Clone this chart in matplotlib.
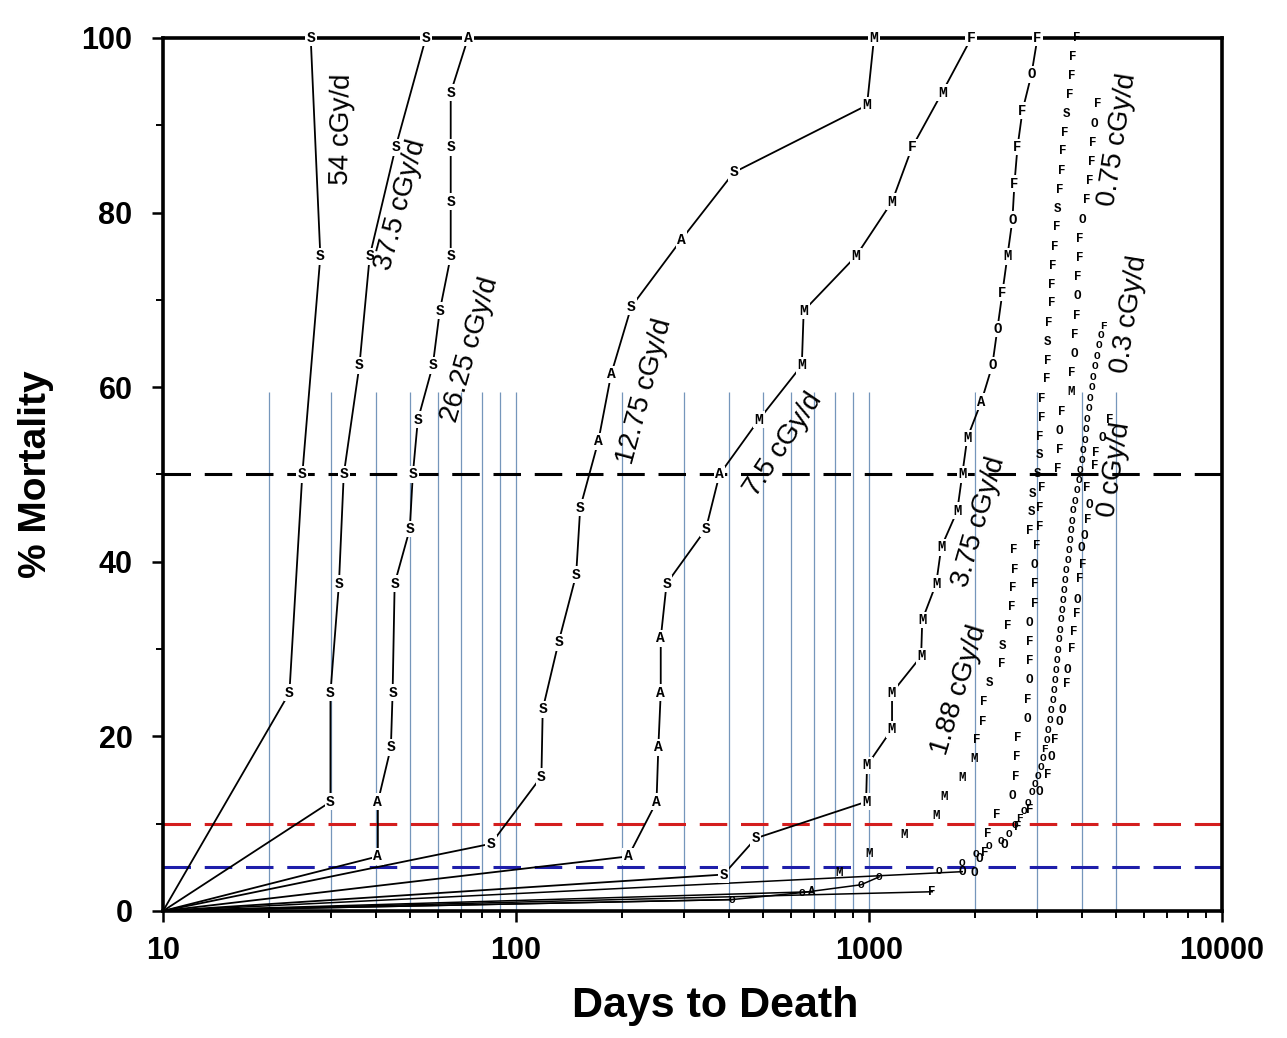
import matplotlib
matplotlib.use('Agg')
import matplotlib.pyplot as plt
from matplotlib.ticker import FixedLocator, LogLocator, MultipleLocator, NullFormatter

# ---- data: days to death / % mortality / cause letter ----
d54_days = [22.8, 24.8, 27.9, 26.2]
d54_mort = [25, 50, 75, 100]
d54_cause = "SSSS"

d375_days = [29.8, 29.8, 31.5, 32.5, 36.0, 38.5, 45.6, 55.5]
d375_mort = [12.5, 25, 37.5, 50, 62.5, 75, 87.5, 100]
d375_cause = "SSSSSSSS"

d2625_days = [40.6, 40.6, 44.2, 44.7, 45.3, 50.0, 51.0, 52.7, 58.1, 60.8,
              65.3, 65.3, 65.3, 65.3, 73.1]
d2625_mort = [6.25, 12.5, 18.75, 25, 37.5, 43.75, 50, 56.25, 62.5, 68.75,
              75, 81.25, 87.5, 93.75, 100]
d2625_cause = "AASSSSSSSSSSSSA"

d1275_days = [85, 118, 119, 132, 148, 152, 171, 186, 212, 294, 414, 987, 1033]
d1275_mort = [7.7, 15.4, 23.1, 30.8, 38.5, 46.2, 53.8, 61.5, 69.2, 76.9,
              84.6, 92.3, 100]
d1275_cause = "SSSSSSAASASMM"

d75_days = [208, 250, 253, 257, 257, 267, 345, 377, 487, 645, 653, 918,
            1162, 1325, 1611, 1949]
d75_mort = [6.25, 12.5, 18.75, 25, 31.25, 37.5, 43.75, 50, 56.25, 62.5,
            68.75, 75, 81.25, 87.5, 93.75, 100]
d75_cause = "AAAAASSAMMMMMFMF"

d375b_days = [387, 478, 981, 987, 1162, 1162, 1405, 1415, 1550, 1602, 1778,
              1837, 1898, 2080, 2235, 2310, 2387, 2466, 2548, 2582, 2634,
              2721, 2885, 3000]
d375b_mort = [4.17, 8.33, 12.5, 16.67, 20.83, 25, 29.17, 33.33, 37.5, 41.67,
              45.83, 50, 54.17, 58.33, 62.5, 66.67, 70.83, 75, 79.17, 83.33,
              87.5, 91.67, 95.83, 100]
d375b_cause = "SSMMMMMMMMMMMAOOFMOFFFOF"

d188_days = [689, 822, 1000, 1257, 1550, 1634, 1837, 1987, 2014, 2094, 2108,
             2193, 2371, 2387, 2466, 2532, 2548, 2582, 2565, 2848, 2886, 2905,
             3001, 3041, 3041, 3080, 3080, 3184, 3205, 3205, 3225, 3289, 3289,
             3311, 3354, 3398, 3420, 3466, 3512, 3535, 3581, 3628, 3700, 3749,
             3774, 3875]
d188_mort = [2.2, 4.3, 6.5, 8.7, 10.9, 13.0, 15.2, 17.4, 19.6, 21.7, 23.9,
             26.1, 28.3, 30.4, 32.6, 34.8, 37.0, 39.1, 41.3, 43.5, 45.7, 47.8,
             50.0, 52.2, 54.3, 56.5, 58.7, 60.9, 63.0, 65.2, 67.4, 69.6, 71.7,
             73.9, 76.1, 78.3, 80.4, 82.6, 84.8, 87.0, 89.1, 91.3, 93.5, 95.7,
             97.8, 100]
d188_cause = "AMMMMMMMFFFSFSFFFFFFSSSSFFFFFSFFFFFFSFFFFSFFFF"

d075_days = [1510, 1987, 2122, 2164, 2295, 2548, 2598, 2616, 2633, 2812, 2812,
             2848, 2848, 2848, 2848, 2943, 2943, 2943, 2982, 3041, 3041, 3081,
             3420, 3465, 3465, 3511, 3749, 3749, 3823, 3823, 3873, 3899, 3899,
             3950, 3950, 4028, 4135, 4217, 4273, 4301, 4357, 4444]
d075_mort = [2.2, 4.4, 6.6, 8.8, 11.0, 13.2, 15.4, 17.6, 19.8, 22.0, 24.2,
             26.4, 28.6, 30.8, 33.0, 35.2, 37.4, 39.6, 41.8, 44.0, 46.2, 48.4,
             50.6, 52.8, 55.0, 57.2, 59.4, 61.6, 63.8, 66.0, 68.2, 70.4, 72.6,
             74.8, 77.0, 79.2, 81.4, 83.6, 85.8, 88.0, 90.2, 92.4]
d075_cause = "FOFFFOFFFOFOFFOFFOFFFFFFOFMFOFFOFFFOFFFFOF"

d03_days = [408, 645, 949, 1068, 1581, 1837, 2014, 2193, 2371, 2499, 2598,
            2668, 2756, 2812, 2886, 2943, 3001, 3061, 3101, 3142, 3183, 3204,
            3246, 3267, 3310, 3332, 3354, 3376, 3398, 3420, 3443, 3465, 3488,
            3511, 3534, 3557, 3581, 3604, 3652, 3676, 3700, 3724, 3749, 3773,
            3823, 3873, 3924, 3950, 4002, 4028, 4081, 4108, 4135, 4190, 4217,
            4273, 4301, 4357, 4415, 4473, 4532, 4622]
d03_mort = [1.3, 2.1, 3.0, 3.9, 4.6, 5.5, 6.5, 7.4, 8.0, 8.8, 9.8, 10.6, 11.5,
            12.4, 13.6, 14.5, 15.5, 16.5, 17.5, 18.5, 19.6, 20.7, 21.9, 23.0,
            24.2, 25.3, 26.5, 27.6, 28.8, 29.9, 31.1, 32.2, 33.4, 34.5, 35.6,
            36.8, 37.9, 39.1, 40.2, 41.3, 42.5, 43.6, 44.7, 45.9, 47.0, 48.2,
            49.4, 50.5, 51.7, 52.8, 54.0, 55.2, 56.4, 57.6, 58.8, 60.0, 61.2,
            62.4, 63.6, 64.8, 66.0, 67.0]
d03_cause = "OOOOOOOOOOOFOOOOOOOFOOOOOOOOOOOOOOOOOOOOOOOOOOOOOOOOOOOOOOOOOF"

d0_days = [1837, 2054, 2418, 2633, 2848, 3041, 3204, 3289, 3354, 3465, 3534,
           3628, 3652, 3749, 3798, 3873, 3899, 3950, 4028, 4002, 4081, 4162,
           4217, 4135, 4357, 4386, 4592, 4806]
d0_mort = [4.5, 6.0, 7.6, 9.6, 11.6, 13.6, 15.6, 17.6, 19.6, 21.6, 23.0, 26.0,
           27.6, 30.0, 32.0, 34.0, 35.6, 38.0, 39.6, 41.6, 43.0, 44.8, 46.5,
           48.5, 51.0, 52.5, 54.2, 56.2]
d0_cause = "OOOFFOFOFOOFOFFFOFFOOFOFFFOF"

dose_labels = ["54 cGy/d", "37.5 cGy/d", "26.25 cGy/d", "12.75 cGy/d",
               "7.5 cGy/d", "3.75 cGy/d", "1.88 cGy/d", "0.75 cGy/d",
               "0.3 cGy/d", "0 cGy/d"]

grid_days = [20, 30, 40, 50, 60, 70, 80, 90, 100, 200, 300, 400, 500, 600,
             700, 800, 900, 1000, 2000, 3000, 4000, 5000]

# ---- figure ----
fig = plt.figure(figsize=(12.87, 10.38), dpi=100)
ax = fig.add_axes([0.1267, 0.1224, 0.8228, 0.8410])
ax.set_xscale('log')
ax.set_xlim(10, 10000)
ax.set_ylim(0, 100)

ax.vlines(grid_days, 0, 59.5, color='#7596bb', lw=0.9, zorder=1)
ax.axhline(50, color='k', lw=2.2, dashes=(9, 4.5), zorder=2)
ax.axhline(10, color='#d41e1e', lw=2.2, dashes=(9, 4.5), zorder=2)
ax.axhline(5, color='#1e1eaa', lw=2.2, dashes=(9, 4.5), zorder=2)

mfont = dict(family='Liberation Mono', fontweight='bold', ha='center',
             va='center', zorder=5)


def draw(days, mort, cause, join=True, fs=10.5):
    if join:
        ax.plot([10] + days, [0] + mort, color='k', lw=1.3, zorder=3)
        box = dict(boxstyle='square,pad=0.1', fc='white', ec='none')
    else:
        ax.plot([10, days[0]], [0, mort[0]], color='k', lw=1.1, zorder=3)
        box = None
    for d, m, c in zip(days, mort, cause):
        ax.text(d, m, c, fontsize=fs, bbox=box, **mfont)


draw(d54_days, d54_mort, d54_cause)
draw(d375_days, d375_mort, d375_cause)
draw(d2625_days, d2625_mort, d2625_cause)
draw(d1275_days, d1275_mort, d1275_cause)
draw(d75_days, d75_mort, d75_cause)
draw(d375b_days, d375b_mort, d375b_cause, fs=10)
draw(d188_days, d188_mort, d188_cause, join=False, fs=9)
draw(d075_days, d075_mort, d075_cause, join=False, fs=9)
draw(d0_days, d0_mort, d0_cause, join=False, fs=9)
ax.plot([10] + d03_days[:4], [0] + d03_mort[:4], color='k', lw=1.1, zorder=3)
draw(d03_days, d03_mort, d03_cause, join=False, fs=8)

# rotated dose labels: (x, y, angle)
label_pos = [(32.2, 89.5, 89), (47.1, 80.9, 75), (74, 64.3, 74),
             (231, 59.5, 75), (573, 53.4, 56), (2054, 44.6, 74),
             (1802, 25.3, 73), (5066, 88.3, 81), (5478, 68.3, 81),
             (4966, 50.5, 81)]
for txt, (x, y, r) in zip(dose_labels, label_pos):
    ax.text(x, y, txt, rotation=r, fontsize=20, family='Liberation Sans',
            ha='center', va='center', rotation_mode='anchor', zorder=6)

# ---- axes styling ----
for s in ax.spines.values():
    s.set_linewidth(2.6)
    s.set_zorder(4)

ax.xaxis.set_major_locator(FixedLocator([10, 100, 1000, 10000]))
ax.set_xticklabels(['10', '100', '1000', '10000'])
ax.xaxis.set_minor_locator(LogLocator(base=10, subs=range(2, 10)))
ax.xaxis.set_minor_formatter(NullFormatter())
ax.yaxis.set_major_locator(MultipleLocator(20))
ax.yaxis.set_minor_locator(MultipleLocator(10))

ax.tick_params(which='major', direction='out', length=8, width=1.8,
               labelsize=22, pad=10)
ax.tick_params(which='minor', direction='out', length=5, width=1.4)
ax.tick_params(axis='y', which='major', pad=14)
for lab in ax.get_xticklabels() + ax.get_yticklabels():
    lab.set_fontweight('bold')
    lab.set_family('Liberation Sans')

ax.set_xlabel('Days to Death', fontsize=31, fontweight='bold',
              family='Liberation Sans')
ax.xaxis.set_label_coords(0.521, -0.086)
ax.set_ylabel('% Mortality', fontsize=28, fontweight='bold',
              family='Liberation Sans', labelpad=20)

fig.savefig('out.png', dpi=100)
